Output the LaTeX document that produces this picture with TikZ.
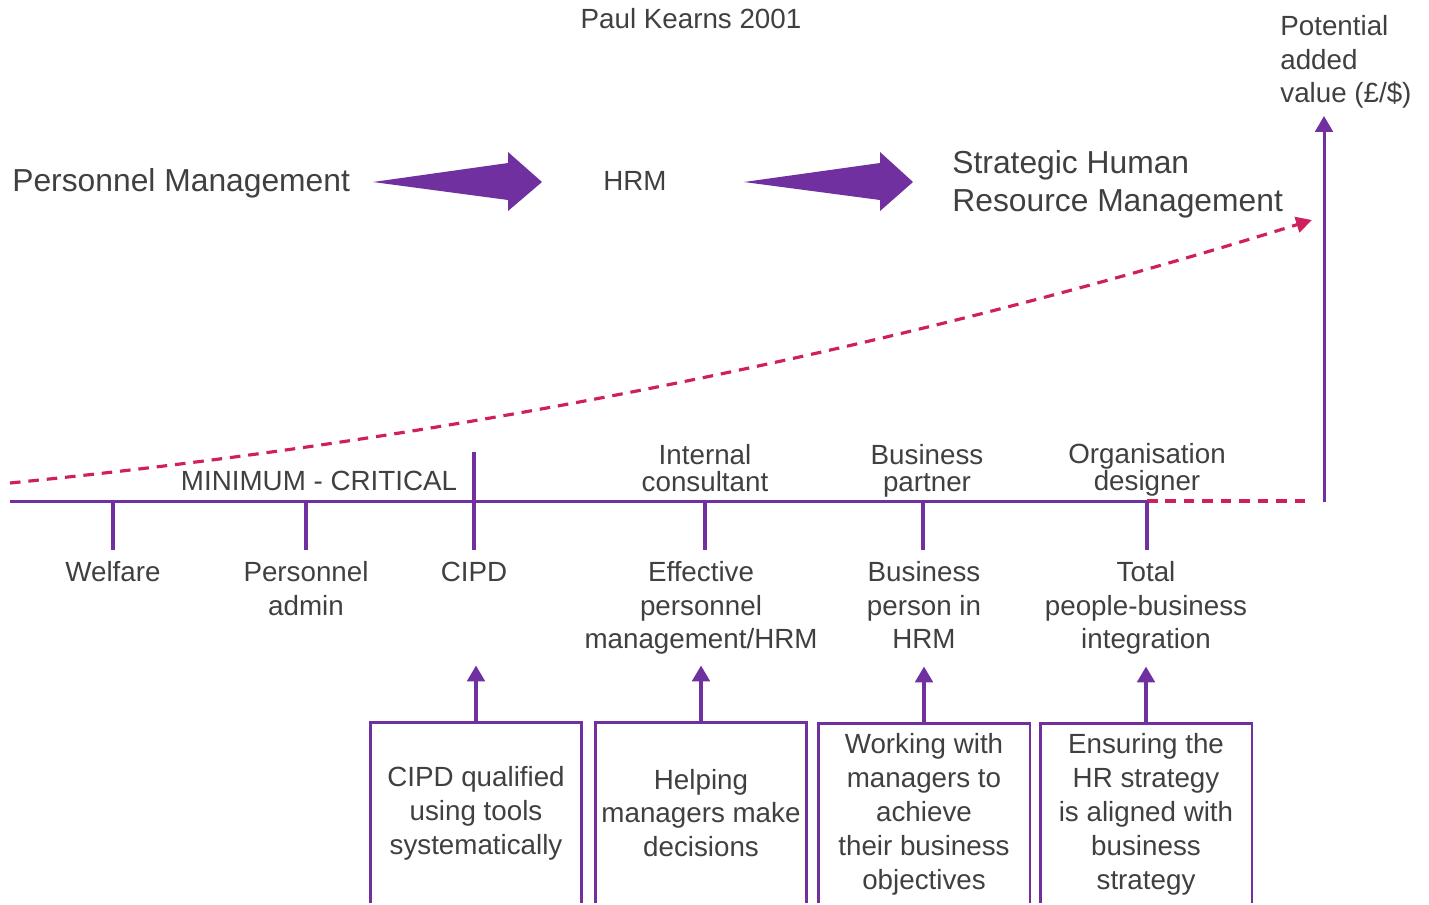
\documentclass[tikz,border=0pt]{standalone}
\usepackage{fontspec}
\setmainfont{Liberation Sans}
\usetikzlibrary{arrows.meta}
\definecolor{hrpurple}{HTML}{7030A0}
\definecolor{hrpink}{HTML}{CF1F5E}
\definecolor{txt}{HTML}{404040}
\tikzset{
  lbl/.style={text=txt,font=\fontsize{15.8}{19.2}\selectfont,inner sep=0pt,align=center},
  tight/.style={text=txt,font=\fontsize{15.8}{15.3}\selectfont,inner sep=0pt,align=center},
  big/.style={text=txt,font=\fontsize{18.1}{21.5}\selectfont,inner sep=0pt},
  boxnode/.style={draw=hrpurple,line width=1.7pt,minimum width=4.24cm,minimum height=3.64cm,
    text=txt,font=\fontsize{15.8}{19.3}\selectfont,inner sep=0pt,align=center},
  axisline/.style={draw=hrpurple,line width=1.7pt},
  tickline/.style={draw=hrpurple,line width=1.9pt},
  upconn/.style={draw=hrpurple,line width=1.9pt,-{Triangle[width=10pt,length=9pt]}},
  pinkdash/.style={draw=hrpink,line width=1.8pt,dash pattern=on 6pt off 4.5pt},
  bigarrow/.style={fill=hrpurple}
}
\begin{document}
\begin{tikzpicture}[x=0.02cm,y=-0.02cm]
\useasboundingbox (0,0) rectangle (1429,904);
\clip (-5,-5) rectangle (1434,902);

% title
\node[lbl,anchor=base] (title) at (691,28) {Paul Kearns 2001};

% top stages
\node[big,anchor=base west] (pm) at (12,191) {Personnel Management};
\node[lbl,anchor=base] (hrm) at (635,190) {HRM};
\node[big,anchor=north west,align=left] (shrm) at (952,150) {Strategic Human\\Resource Management};

\fill[bigarrow] (373,182) -- (508,163) -- (508,152) -- (542,182) -- (508,211) -- (508,200) -- cycle;
\fill[bigarrow] (744,182) -- (880,163) -- (880,152) -- (913,182) -- (880,211) -- (880,200) -- cycle;

% axes
\coordinate (o) at (10,501);
\coordinate (og) at (1147,501);
\coordinate (ax) at (1312,501);
\coordinate (vb) at (1324,502);
\coordinate (vt) at (1324,116);
\node[lbl,anchor=north west,align=left] (pav) at (1280,15) {Potential\\added\\value (£/\$)};

\draw[axisline] (o) -- (og);
\draw[pinkdash] (og) -- (ax);
\draw[axisline,-{Triangle[width=10pt,length=9pt]}] (vb) -- (vt);

% dashed growth curve
\coordinate (cs) at (10,483);
\coordinate (ce) at (1312,220);
\draw[pinkdash,-{Triangle[width=9pt,length=9pt]}] (cs) .. controls (444,440) and (878,355) .. (ce);

% ticks
\coordinate (t1) at (113,501);
\coordinate (t2) at (306,501);
\coordinate (t3) at (474,501);
\coordinate (t4) at (705,501);
\coordinate (t5) at (923,501);
\coordinate (t6) at (1147,501);
\draw[tickline] (t1) -- ++(0,49);
\draw[tickline] (t2) -- ++(0,49);
\draw[tickline] (474,452) -- (474,550);
\draw[tickline] (t4) -- ++(0,49);
\draw[tickline] (t5) -- ++(0,49);
\draw[tickline] (t6) -- ++(0,49);

% labels above axis
\node[lbl,anchor=base] (minc) at (319,490) {MINIMUM - CRITICAL};
\node[tight,anchor=north] (ic) at (705,444) {Internal\\consultant};
\node[tight,anchor=north] (bp) at (927,444) {Business\\partner};
\node[tight,anchor=north] (od) at (1147,443) {Organisation\\designer};

% labels below axis
\node[lbl,anchor=base] (wel) at (113,581) {Welfare};
\node[lbl,anchor=north] (padm) at (306,561) {Personnel\\admin};
\node[lbl,anchor=base] (cipd) at (474,581) {CIPD};
\node[lbl,anchor=north] (eff) at (701,561) {Effective\\personnel\\management/HRM};
\node[lbl,anchor=north] (bph) at (924,561) {Business\\person in\\HRM};
\node[lbl,anchor=north] (tot) at (1146,561) {Total\\people-business\\integration};

% boxes
\node[boxnode] (b1) at (476,813) {CIPD qualified\\using tools\\systematically};
\node[boxnode] (b2) at (701,813) {Helping\\managers make\\decisions};
\node[boxnode] (b3) at (924,814) {Working with\\managers to\\achieve\\their business\\objectives};
\node[boxnode] (b4) at (1146,814) {Ensuring the\\HR strategy\\is aligned with\\business\\strategy};

\draw[upconn] (b1.north) -- ++(0,-55);
\draw[upconn] (b2.north) -- ++(0,-55);
\draw[upconn] (b3.north) -- ++(0,-55);
\draw[upconn] (b4.north) -- ++(0,-55);
\end{tikzpicture}
\end{document}
